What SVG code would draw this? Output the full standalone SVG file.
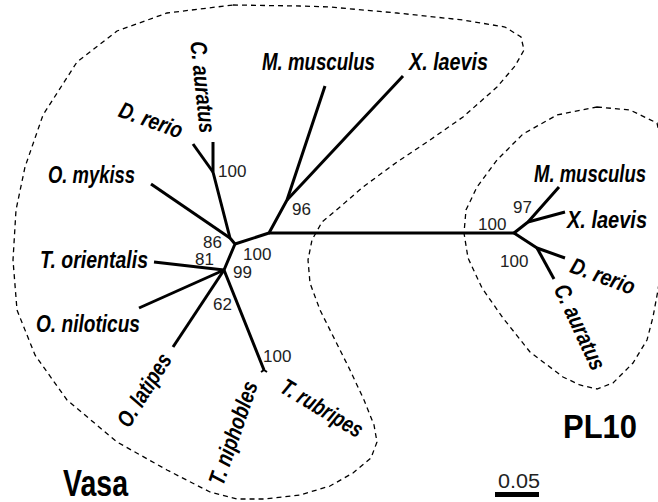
<svg xmlns="http://www.w3.org/2000/svg" width="658" height="502" viewBox="0 0 658 502">
<style>
.br{fill:none;stroke:#000;stroke-width:3;stroke-linecap:butt;stroke-linejoin:round}
.out{fill:none;stroke:#000;stroke-width:1.3;stroke-dasharray:5 4}
.sp{font-family:"Liberation Sans",Arial,sans-serif;font-style:italic;font-weight:bold;font-size:23px;fill:#000}
.bs{font-family:"Liberation Sans",Arial,sans-serif;font-size:17px;fill:#222}
.ttl{font-family:"Liberation Sans",Arial,sans-serif;font-weight:bold;font-size:37px;fill:#000}
</style>
<rect width="658" height="502" fill="#fff"/>
<g id="outlines">
<path id="vasa-outline" class="out" d="M233,5 L300,6 L330,7 L397,13 L463,20 L505,27 L521,37 L524,50 L515,66 L497,87 L463,117 L430,140 L397,162 L363,187 L340,207 L322,222 L312,240 L308,260 L310,283 L320,310 L335,340 L350,370 L364,400 L374,425 L377,442 L371,458 L353,473 L330,486 L300,495 L265,499 L237,499 L210,492 L167,470 L117,442 L67,400 L35,355 L17,310 L13,260 L16,210 L25,167 L43,115 L77,62 L117,31 L167,13 Z"/>
<path id="pl10-outline" class="out" d="M597,107 L630,110 L657,123 L663,150 L666,200 L664,250 L658,290 L653,317 L647,340 L633,363 L613,383 L597,389 L580,385 L563,377 L530,352 L503,318 L482,288 L468,258 L464,233 L466,210 L477,187 L497,160 L523,134 L557,115 Z"/>
</g>
<g id="connectors">
<path class="br" d="M269,233 L514,233"/>
<path class="br" d="M235,244 L269,233 L287,200 L325,86"/>
<path class="br" d="M287,200 L403,76"/>
<path class="br" d="M224,270 L235,244 L230,238 L213,172 L213,142"/>
<path class="br" d="M213,172 L193,144"/>
<path class="br" d="M230,238 L151,184"/>
<path class="br" d="M224,270 L154,262"/>
<path class="br" d="M224,270 L139,308"/>
<path class="br" d="M224,270 L173,347"/>
<path class="br" d="M224,270 L264,370"/>
<path class="br" style="stroke-width:2" d="M261,372 L264,370 L267,372"/>
<path class="br" d="M514,233 L528,222 L559,187"/>
<path class="br" d="M528,222 L565,212"/>
<path class="br" d="M514,233 L537,248 L565,258"/>
<path class="br" d="M537,248 L554,279"/>
</g>
<g id="vasa-nodes">
<g id="v-mmus"><text class="sp" x="262" y="70" textLength="113" lengthAdjust="spacingAndGlyphs">M. musculus</text></g>
<g id="v-xlae"><text class="sp" x="409" y="70" textLength="79" lengthAdjust="spacingAndGlyphs">X. laevis</text></g>
<g id="v-caur"><text class="sp" transform="translate(203,87) rotate(84)" text-anchor="middle" dy="8" textLength="92" lengthAdjust="spacingAndGlyphs">C. auratus</text></g>
<g id="v-drer"><text class="sp" transform="translate(151,120) rotate(20)" text-anchor="middle" dy="8" textLength="66" lengthAdjust="spacingAndGlyphs">D. rerio</text></g>
<g id="v-omyk"><text class="sp" x="48" y="183" textLength="87" lengthAdjust="spacingAndGlyphs">O. mykiss</text></g>
<g id="v-tori"><text class="sp" x="40" y="268" textLength="108" lengthAdjust="spacingAndGlyphs">T. orientalis</text></g>
<g id="v-onil"><text class="sp" x="36" y="332" textLength="104" lengthAdjust="spacingAndGlyphs">O. niloticus</text></g>
<g id="v-olat"><text class="sp" transform="translate(144,390) rotate(-58)" text-anchor="middle" dy="8" textLength="82" lengthAdjust="spacingAndGlyphs">O. latipes</text></g>
<g id="v-tnip"><text class="sp" transform="translate(233,433) rotate(-71)" text-anchor="middle" dy="8" textLength="108" lengthAdjust="spacingAndGlyphs">T. niphobles</text></g>
<g id="v-trub"><text class="sp" transform="translate(322,408) rotate(31)" text-anchor="middle" dy="8" textLength="92" lengthAdjust="spacingAndGlyphs">T. rubripes</text></g>
</g>
<g id="pl10-nodes">
<g id="p-mmus"><text class="sp" x="534" y="182" textLength="112" lengthAdjust="spacingAndGlyphs">M. musculus</text></g>
<g id="p-xlae"><text class="sp" x="567" y="228" textLength="80" lengthAdjust="spacingAndGlyphs">X. laevis</text></g>
<g id="p-drer"><text class="sp" transform="translate(603,276) rotate(20)" text-anchor="middle" dy="8" textLength="67" lengthAdjust="spacingAndGlyphs">D. rerio</text></g>
<g id="p-caur"><text class="sp" transform="translate(580,327) rotate(65)" text-anchor="middle" dy="8" textLength="92" lengthAdjust="spacingAndGlyphs">C. auratus</text></g>
</g>
<g id="bootstrap">
<text class="bs" x="218" y="177">100</text>
<text class="bs" x="292" y="215">96</text>
<text class="bs" x="203" y="248">86</text>
<text class="bs" x="243" y="260">100</text>
<text class="bs" x="195" y="265">81</text>
<text class="bs" x="233" y="278">99</text>
<text class="bs" x="213" y="310">62</text>
<text class="bs" x="263" y="362">100</text>
<text class="bs" x="478" y="230">100</text>
<text class="bs" x="513" y="213">97</text>
<text class="bs" x="500" y="267">100</text>
</g>
<g id="titles">
<text class="ttl" x="63" y="496" style="font-size:36px" textLength="65" lengthAdjust="spacingAndGlyphs">Vasa</text>
<text class="ttl" x="563" y="438" style="font-size:34px" textLength="74" lengthAdjust="spacingAndGlyphs">PL10</text>
</g>
<g id="scale">
<text class="bs" x="498" y="488" style="font-size:20px" textLength="42" lengthAdjust="spacingAndGlyphs">0.05</text>
<rect x="495" y="492" width="44" height="5" fill="#000"/>
</g>
</svg>
